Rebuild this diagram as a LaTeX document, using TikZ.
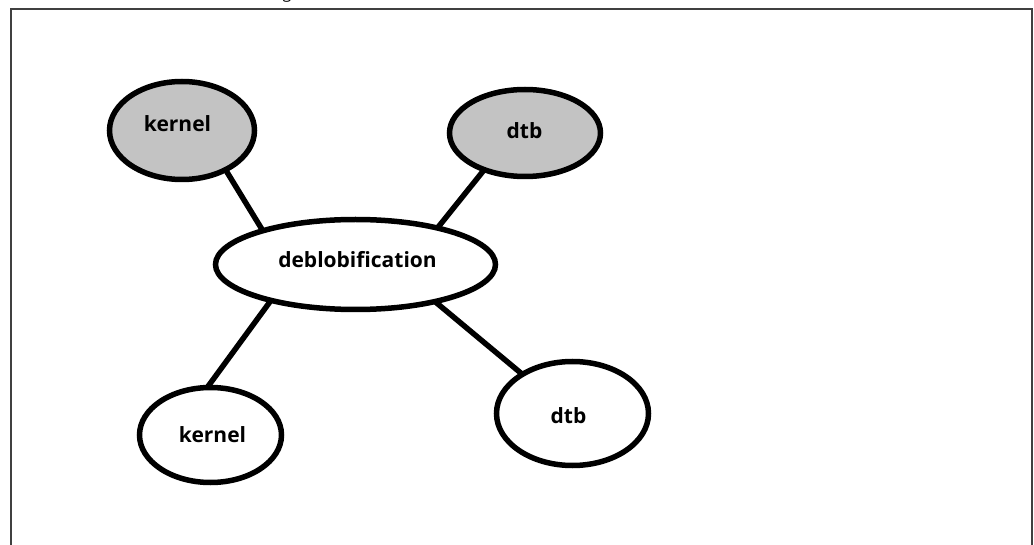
\documentclass[tikz,border=0pt]{standalone}
\usepackage{fontspec}
\setmainfont{Open Sans}
\usetikzlibrary{shapes.geometric}
\definecolor{framegray}{HTML}{404040}
\definecolor{blobgray}{HTML}{C3C3C3}
\tikzset{
  blob/.style={ellipse, draw=black, line width=5.5pt, inner sep=0pt, outer sep=0pt},
  grayblob/.style={blob, fill=blobgray},
  whiteblob/.style={blob, fill=white},
  lbl/.style={inner sep=0pt, font=\fontsize{21}{21}\selectfont\bfseries, anchor=base},
  link/.style={draw=black, line width=5.5pt},
  frame/.style={draw=framegray, line width=2pt}
}
\begin{document}
\begin{tikzpicture}[x=1pt,y=-1pt]
\useasboundingbox (0,0) rectangle (1034,545);
\fill[white] (0,0) rectangle (1034,545);
% frame
\coordinate (fbl) at (11,560);
\coordinate (ftl) at (11,9);
\coordinate (ftr) at (1032,9);
\coordinate (fbr) at (1032,560);
\draw[frame] (fbl) -- (ftl) -- (ftr) -- (fbr);
\node[inner sep=0pt, anchor=base, font=\fontsize{16}{16}\selectfont] (title) at (287,-1) {g};
% ellipses
\node[grayblob, minimum width=145pt, minimum height=98pt] (k1) at (182,130.5) {};
\node[grayblob, minimum width=151pt, minimum height=87pt] (d1) at (525,133) {};
\node[whiteblob, minimum width=280pt, minimum height=90pt] (deb) at (355.5,264.5) {};
\node[whiteblob, minimum width=142pt, minimum height=95pt] (k2) at (210.5,435) {};
\node[whiteblob, minimum width=152pt, minimum height=104pt] (d2) at (572.5,413.5) {};
% labels
\node[lbl] (k1t) at (177.5,132) {kernel};
\node[lbl] (d1t) at (524.5,139) {dtb};
\node[lbl] (debt) at (357.5,268) {deblobification};
\node[lbl] (k2t) at (212.5,442) {kernel};
\node[lbl] (d2t) at (568.5,423) {dtb};
% links
\draw[link] (k1.-42.7) -- (deb.160.1);
\draw[link] (d1.222.2) -- (deb.24.7);
\draw[link] (deb.203.4) -- (k2.94.2);
\draw[link] (deb.-25.7) -- (d2.142.4);
\end{tikzpicture}
\end{document}
